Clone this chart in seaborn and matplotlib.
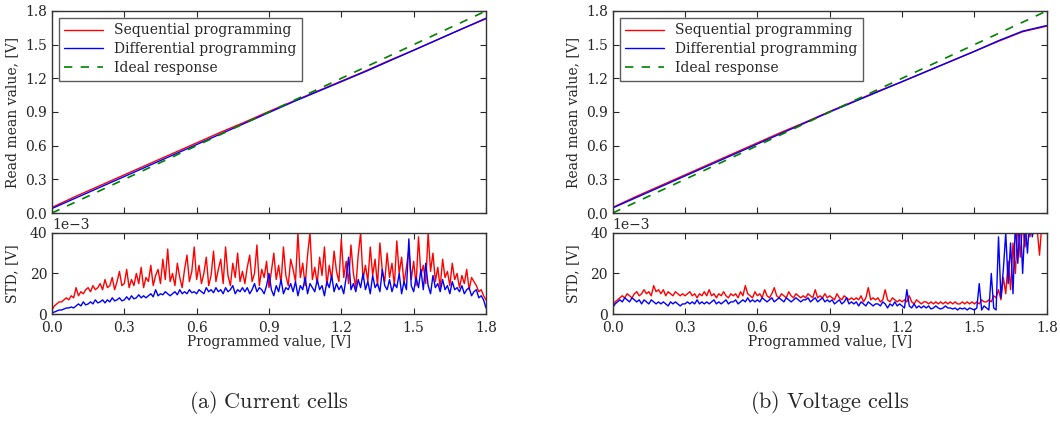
import numpy as np
import pandas as pd
import matplotlib
matplotlib.use("Agg")
import matplotlib.pyplot as plt
import seaborn as sns
from matplotlib.ticker import ScalarFormatter

# ---------------- data ----------------
x_mean = [0.0, 0.1, 0.2, 0.3, 0.4, 0.5, 0.6, 0.7, 0.8, 0.9, 1.0,
          1.1, 1.2, 1.3, 1.4, 1.5, 1.6, 1.7, 1.8]
ideal = [0.0, 0.1, 0.2, 0.3, 0.4, 0.5, 0.6, 0.7, 0.8, 0.9, 1.0,
         1.1, 1.2, 1.3, 1.4, 1.5, 1.6, 1.7, 1.8]

# (a) Current cells - mean read value [V]
cur_seq_mean = [0.05, 0.15, 0.245, 0.34, 0.435, 0.53, 0.625, 0.72, 0.81, 0.905,
                0.995, 1.085, 1.175, 1.265, 1.36, 1.45, 1.545, 1.64, 1.73]
cur_dif_mean = [0.04, 0.135, 0.23, 0.325, 0.42, 0.515, 0.61, 0.705, 0.80, 0.895,
                0.99, 1.08, 1.17, 1.26, 1.355, 1.45, 1.545, 1.64, 1.735]
# (b) Voltage cells - mean read value [V]
vol_seq_mean = [0.05, 0.15, 0.245, 0.34, 0.435, 0.53, 0.625, 0.72, 0.81, 0.905,
                0.995, 1.085, 1.17, 1.26, 1.35, 1.44, 1.53, 1.615, 1.665]
vol_dif_mean = [0.045, 0.14, 0.235, 0.33, 0.425, 0.52, 0.615, 0.71, 0.805, 0.90,
                0.99, 1.08, 1.17, 1.26, 1.35, 1.44, 1.535, 1.62, 1.67]

x_std = [round(0.01 * i, 2) for i in range(181)]

# STD values in mV (converted to V below)
cur_seq_std = [
    2, 4, 5, 6, 6, 7, 8, 7, 9, 8,
    13, 9, 11, 10, 12, 13, 11, 14, 12, 13,
    15, 12, 17, 13, 14, 18, 12, 16, 21, 14,
    15, 22, 13, 17, 14, 20, 15, 23, 13, 18,
    16, 24, 14, 19, 22, 15, 27, 17, 32, 16,
    20, 14, 25, 18, 13, 22, 29, 16, 21, 33,
    17, 24, 15, 20, 28, 14, 19, 31, 16, 22,
    27, 15, 33, 19, 14, 25, 18, 30, 16, 21,
    15, 23, 29, 16, 20, 34, 14, 22, 18, 26,
    13, 21, 30, 17, 24, 15, 33, 19, 14, 27,
    22, 16, 40, 18, 25, 14, 29, 40, 17, 23,
    15, 28, 19, 33, 14, 24, 17, 31, 21, 16,
    37, 18, 26, 15, 34, 20, 13, 29, 40, 17,
    24, 16, 33, 19, 27, 14, 35, 21, 16, 30,
    18, 25, 14, 36, 20, 28, 15, 23, 32, 17,
    26, 14, 38, 19, 24, 15, 40, 21, 30, 16,
    23, 13, 27, 18, 21, 14, 25, 17, 20, 13,
    19, 15, 22, 12, 18, 16, 14, 11, 12, 9,
    7]
cur_dif_std = [
    0.5, 1, 1.5, 2, 2, 2.5, 3, 3, 3.5, 3,
    4, 5, 4, 6, 4.5, 5, 6, 5, 7, 5.5,
    6, 7, 5.5, 7, 6, 8, 6.5, 7, 8, 6.5,
    7, 8.5, 7, 9, 7.5, 8, 9.5, 8, 9, 8,
    9, 10, 8.5, 12, 9, 10, 9.5, 11, 10, 9,
    10, 11, 9.5, 12, 10, 11, 10, 12, 10.5, 11,
    10, 12, 11, 10, 13, 11, 12, 10.5, 13, 11,
    12, 10, 13, 11, 12, 14, 10, 12, 11, 13,
    11, 13, 10, 12, 15, 11, 13, 12, 10, 14,
    20, 12, 9, 14, 11, 17, 10, 13, 12, 15,
    11, 16, 9, 14, 12, 18, 10, 15, 13, 11,
    17, 12, 14, 9, 16, 13, 19, 11, 15, 12,
    14, 10, 18, 28, 12, 15, 11, 17, 13, 20,
    12, 16, 10, 19, 13, 15, 11, 22, 14, 12,
    17, 11, 15, 13, 20, 10, 16, 12, 37, 14,
    11, 18, 13, 22, 12, 25, 14, 10, 19, 13,
    15, 11, 17, 12, 14, 10, 16, 12, 13, 11,
    14, 10, 12, 13, 9, 11, 12, 8, 9, 7,
    3]
vol_seq_std = [
    4, 6, 7, 8, 9, 8, 10, 9, 8, 10,
    11, 9, 10, 12, 10, 11, 9, 14, 11, 12,
    10, 12, 9, 11, 10, 9, 11, 10, 9, 10,
    9, 10, 11, 9, 10, 8, 10, 9, 11, 9,
    12, 9, 10, 8, 10, 9, 11, 9, 8, 10,
    9, 10, 8, 11, 9, 14, 10, 9, 8, 11,
    9, 10, 8, 12, 9, 8, 10, 13, 9, 8,
    10, 9, 8, 11, 9, 8, 10, 9, 8, 9,
    8, 10, 9, 8, 12, 8, 9, 8, 10, 8,
    9, 8, 7, 10, 8, 7, 9, 8, 7, 8,
    7, 8, 7, 9, 6, 8, 13, 7, 8, 7,
    8, 6, 7, 12, 7, 6, 8, 7, 6, 7,
    6, 7, 6, 9, 6, 5, 7, 6, 5, 6,
    6, 5, 6, 5, 6, 5, 6, 5, 6, 5,
    6, 5, 6, 5, 5, 6, 5, 6, 5, 6,
    5, 6, 5, 7, 6, 6, 7, 6, 9, 8,
    12, 7, 18, 10, 26, 12, 35, 20, 45, 28,
    45, 33, 48, 38, 45, 50, 42, 29, 45, 50,
    50]
vol_dif_std = [
    3, 5, 6, 7, 6, 8, 7, 6, 8, 7,
    6, 7, 5, 7, 6, 5, 7, 6, 5, 6,
    5, 6, 5, 4, 6, 5, 6, 5, 4, 5,
    5, 6, 5, 6, 5, 7, 5, 6, 5, 6,
    5, 6, 7, 5, 6, 5, 6, 7, 5, 6,
    6, 7, 5, 6, 7, 6, 8, 6, 7, 6,
    7, 6, 8, 7, 6, 7, 8, 6, 7, 8,
    7, 6, 8, 7, 6, 7, 8, 7, 6, 7,
    7, 8, 6, 7, 8, 6, 7, 8, 6, 7,
    6, 7, 5, 6, 7, 5, 6, 8, 5, 6,
    5, 6, 4, 6, 5, 4, 6, 5, 4, 5,
    5, 4, 6, 5, 3, 5, 4, 6, 4, 5,
    4, 3, 12, 4, 3, 5, 3, 4, 3, 4,
    3, 4, 2.5, 3, 4, 3, 2.5, 3, 4, 3,
    3, 2.5, 3, 2, 3, 2.5, 3, 2, 3, 2.5,
    2, 3, 15, 2, 4, 3, 2, 20, 3, 2,
    38, 8, 22, 40, 15, 35, 10, 45, 25, 48,
    20, 45, 30, 50, 38, 45, 50, 42, 48, 50,
    50]

series_labels = ["Sequential programming", "Differential programming", "Ideal response"]
captions = ["(a) Current cells", "(b) Voltage cells"]
xticks = [0.0, 0.3, 0.6, 0.9, 1.2, 1.5, 1.8]
mean_yticks = [0.0, 0.3, 0.6, 0.9, 1.2, 1.5, 1.8]
std_yticks = [0.0, 0.02, 0.04]

# ---------------- style ----------------
sns.set_style("ticks")
plt.rcParams.update({
    "font.family": ["DejaVu Serif"],
    "font.size": 10,
    "mathtext.fontset": "cm",
    "axes.edgecolor": "#333333",
    "axes.linewidth": 1.0,
    "xtick.direction": "in",
    "ytick.direction": "in",
    "xtick.top": True,
    "ytick.right": True,
    "xtick.major.size": 4,
    "ytick.major.size": 4,
    "xtick.major.pad": 5,
})

RED = "#ff0000"
BLUE = "#0000ff"
GREEN = "#008000"

fig = plt.figure(figsize=(10.6, 4.21), dpi=100)

panels = [
    (0.049, cur_seq_mean, cur_dif_mean, cur_seq_std, cur_dif_std),
    (0.578, vol_seq_mean, vol_dif_mean, vol_seq_std, vol_dif_std),
]
w = 0.4095
for k, (left, sm, dm, ss, ds) in enumerate(panels):
    ax1 = fig.add_axes([left, 0.494, w, 0.480])
    ax2 = fig.add_axes([left, 0.254, w, 0.193])

    sns.lineplot(x=x_mean, y=sm, ax=ax1, color=RED, lw=1.0, label=series_labels[0], estimator=None)
    sns.lineplot(x=x_mean, y=dm, ax=ax1, color=BLUE, lw=1.0, label=series_labels[1], estimator=None)
    sns.lineplot(x=x_mean, y=ideal, ax=ax1, color=GREEN, lw=1.2, label=series_labels[2],
                 estimator=None, linestyle=(0, (5, 5)))
    ax1.set_xlim(0, 1.8)
    ax1.set_ylim(0, 1.8)
    ax1.set_xticks(xticks)
    ax1.set_xticklabels([])
    ax1.set_yticks(mean_yticks)
    ax1.set_yticklabels([f"{v:.1f}" for v in mean_yticks])
    ax1.set_ylabel("Read mean value, [V]")
    leg = ax1.legend(loc="upper left", frameon=True, fancybox=False, handlelength=2.8,
                     borderpad=0.4, labelspacing=0.35, fontsize=10)
    leg.get_frame().set_edgecolor("#333333")
    leg.get_frame().set_linewidth(1.0)

    s_seq = np.array(ss) * 1e-3
    s_dif = np.array(ds) * 1e-3
    sns.lineplot(x=x_std, y=s_seq, ax=ax2, color=RED, lw=1.0, estimator=None)
    sns.lineplot(x=x_std, y=s_dif, ax=ax2, color=BLUE, lw=1.0, estimator=None)
    ax2.set_xlim(0, 1.8)
    ax2.set_ylim(0, 0.04)
    ax2.set_xticks(xticks)
    ax2.set_xticklabels([f"{v:.1f}" for v in xticks])
    ax2.set_yticks(std_yticks)
    fmt = ScalarFormatter(useMathText=False)
    fmt.set_powerlimits((-3, -3))
    ax2.yaxis.set_major_formatter(fmt)
    ax2.set_ylabel("STD, [V]")
    ax2.set_xlabel("Programmed value, [V]", labelpad=0)
    ax2.yaxis.set_label_coords(-0.075, 0.5)
    ax1.yaxis.set_label_coords(-0.075, 0.5)

    fig.text(left + w / 2, 0.012, r"$\mathrm{" + captions[k].replace(" ", r"\ ") + "}$",
             ha="center", va="bottom", fontsize=16)

fig.savefig("out.png", dpi=100)
